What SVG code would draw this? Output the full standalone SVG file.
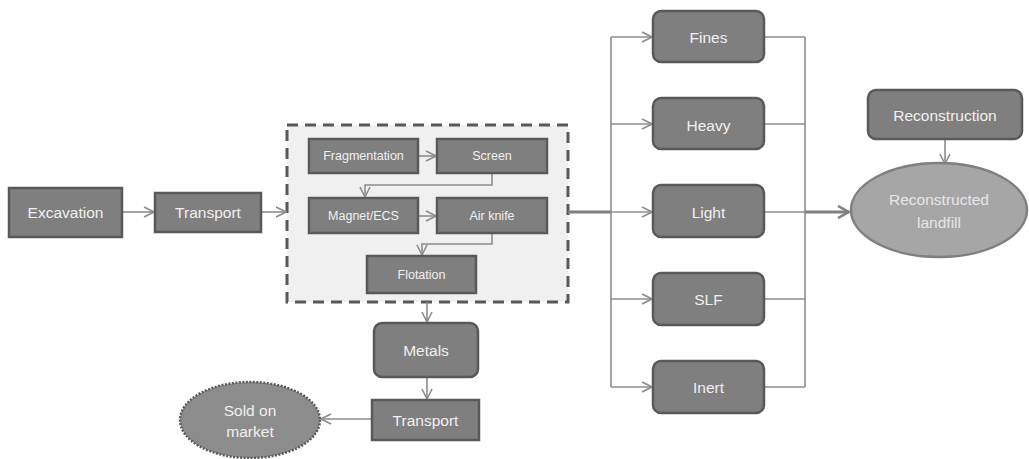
<svg xmlns="http://www.w3.org/2000/svg" width="1029" height="459" viewBox="0 0 1029 459">
<style>
.box{fill:#7f7f7f;stroke:#595959;stroke-width:2.5}
.t{font-family:"Liberation Sans",Arial,sans-serif;font-size:15.5px;fill:#f0f0f0;text-anchor:middle;dominant-baseline:central}
.ts{font-size:12.5px}
.c{fill:none;stroke:#8c8c8c;stroke-width:1.6}
.ct{fill:none;stroke:#7f7f7f;stroke-width:3}
</style>
<defs>
<marker id="a" markerUnits="userSpaceOnUse" markerWidth="12" markerHeight="12" refX="11" refY="6" orient="auto" viewBox="0 0 12 12">
<path d="M1,1 L11,6 L1,11" fill="none" stroke="#8c8c8c" stroke-width="1.6"/>
</marker>
<marker id="b" markerUnits="userSpaceOnUse" markerWidth="14" markerHeight="14" refX="12" refY="7" orient="auto" viewBox="0 0 14 14">
<path d="M1,1 L12,7 L1,13" fill="none" stroke="#7f7f7f" stroke-width="2.5"/>
</marker>
</defs>
<rect width="1029" height="459" fill="#ffffff"/>
<g id="process">
<rect x="287" y="125" width="281" height="177" fill="#f0f0f0" stroke="#595959" stroke-width="3" stroke-dasharray="11,7"/>
</g>
<g id="connectors">
<line class="c" x1="122" y1="212" x2="154" y2="212" marker-end="url(#a)"/>
<line class="c" x1="261" y1="212" x2="286" y2="212" marker-end="url(#a)"/>
<line class="c" x1="418" y1="156" x2="436" y2="156" marker-end="url(#a)"/>
<polyline class="c" points="492,173 492,185 365,185 365,197" marker-end="url(#a)"/>
<line class="c" x1="418" y1="216" x2="436" y2="216" marker-end="url(#a)"/>
<polyline class="c" points="492,233 492,244 422,244 422,255" marker-end="url(#a)"/>
<line class="ct" x1="568" y1="212" x2="611" y2="212"/>
<line class="c" x1="611" y1="37" x2="611" y2="387"/>
<line class="c" x1="611" y1="37" x2="652" y2="37" marker-end="url(#a)"/>
<line class="c" x1="611" y1="124" x2="652" y2="124" marker-end="url(#a)"/>
<line class="c" x1="611" y1="212" x2="652" y2="212" marker-end="url(#a)"/>
<line class="c" x1="611" y1="299" x2="652" y2="299" marker-end="url(#a)"/>
<line class="c" x1="611" y1="387" x2="652" y2="387" marker-end="url(#a)"/>
<line class="c" x1="805" y1="37" x2="805" y2="387"/>
<line class="c" x1="764" y1="37" x2="805" y2="37"/>
<line class="c" x1="764" y1="124" x2="805" y2="124"/>
<line class="c" x1="764" y1="212" x2="805" y2="212"/>
<line class="c" x1="764" y1="299" x2="805" y2="299"/>
<line class="c" x1="764" y1="387" x2="805" y2="387"/>
<line class="ct" x1="805" y1="212" x2="849" y2="212" marker-end="url(#b)"/>
<line class="c" x1="945" y1="139" x2="945" y2="164" marker-end="url(#a)"/>
<line class="c" x1="427" y1="302" x2="427" y2="322" marker-end="url(#a)"/>
<line class="c" x1="427" y1="377" x2="427" y2="399" marker-end="url(#a)"/>
<line class="c" x1="372" y1="419" x2="321" y2="419" marker-end="url(#a)"/>
</g>
<g id="excavation"><rect class="box" x="9" y="188" width="113" height="49"/><text class="t" x="65.5" y="212.5">Excavation</text></g>
<g id="transport1"><rect class="box" x="155" y="193" width="106" height="39"/><text class="t" x="208" y="212.5">Transport</text></g>
<g id="fragmentation"><rect class="box" x="309" y="139" width="109" height="34"/><text class="t ts" x="363.5" y="156">Fragmentation</text></g>
<g id="screen"><rect class="box" x="437" y="139" width="110" height="34"/><text class="t ts" x="492" y="156">Screen</text></g>
<g id="magnet"><rect class="box" x="309" y="198" width="109" height="35"/><text class="t ts" x="363.5" y="216">Magnet/ECS</text></g>
<g id="airknife"><rect class="box" x="437" y="198" width="110" height="35"/><text class="t ts" x="492" y="216">Air knife</text></g>
<g id="flotation"><rect class="box" x="367" y="256" width="109" height="37"/><text class="t ts" x="421.5" y="274.5">Flotation</text></g>
<g id="metals"><rect class="box" x="374" y="323" width="104" height="54" rx="8"/><text class="t" x="426" y="350">Metals</text></g>
<g id="transport2"><rect class="box" x="372" y="400" width="107" height="40"/><text class="t" x="425.5" y="420">Transport</text></g>
<g id="sold"><ellipse cx="250" cy="420" rx="70" ry="38" fill="#8c8c8c" stroke="#595959" stroke-width="2.5" stroke-dasharray="2,1.5"/><text class="t" x="250" y="410">Sold on</text><text class="t" x="250" y="431">market</text></g>
<g id="fines"><rect class="box" x="653" y="11" width="111" height="51" rx="8"/><text class="t" x="708.5" y="37">Fines</text></g>
<g id="heavy"><rect class="box" x="653" y="98" width="111" height="51" rx="8"/><text class="t" x="708.5" y="125">Heavy</text></g>
<g id="light"><rect class="box" x="653" y="185" width="111" height="52" rx="8"/><text class="t" x="708.5" y="212">Light</text></g>
<g id="slf"><rect class="box" x="653" y="273" width="111" height="52" rx="8"/><text class="t" x="708.5" y="299">SLF</text></g>
<g id="inert"><rect class="box" x="653" y="361" width="111" height="52" rx="8"/><text class="t" x="708.5" y="387">Inert</text></g>
<g id="reconstruction"><rect class="box" x="868" y="90" width="154" height="49" rx="8"/><text class="t" x="945" y="115">Reconstruction</text></g>
<g id="landfill"><ellipse cx="939" cy="210" rx="88" ry="47" fill="#a6a6a6" stroke="#7f7f7f" stroke-width="2.5"/><text class="t" x="939" y="199" style="fill:#e6e6e6">Reconstructed</text><text class="t" x="939" y="222" style="fill:#e6e6e6">landfill</text></g>
</svg>
